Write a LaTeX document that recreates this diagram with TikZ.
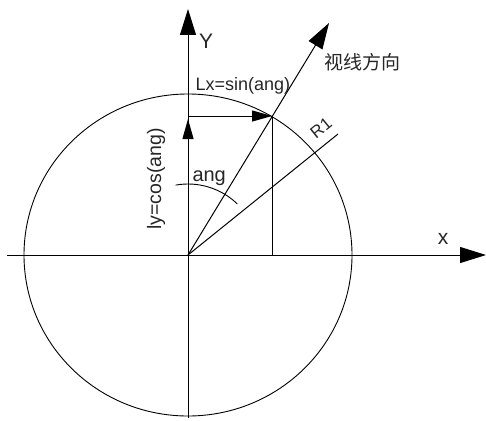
\documentclass[tikz,border=0pt]{standalone}
\usepackage{fontspec}
\setmainfont{Liberation Sans}
\newfontfamily\cjk{Noto Sans CJK SC}
\usetikzlibrary{arrows.meta}
\begin{document}
\begin{tikzpicture}[x=1pt,y=-1pt,line width=1pt,
  bigtip/.style={-{Triangle[length=26pt,width=16pt]}},
  smalltip/.style={-{Triangle[length=20pt,width=11pt]}},
  lbl/.style={inner sep=0pt,text=black!85}]
\useasboundingbox (0,0) rectangle (486,420);
\coordinate (O) at (188,255);
\coordinate (xl) at (7,255);
\coordinate (xr) at (486,255);
\coordinate (yb) at (188,418);
\coordinate (yt) at (188,9);
\coordinate (S) at (329,23);
\coordinate (P) at (272,116);
\coordinate (Py) at (188,116);
\coordinate (Px) at (272,255);
\coordinate (Ly) at (188,119);
\coordinate (R) at (338,134);
% circle
\draw[line width=0.9pt] (O) ellipse [x radius=164pt, y radius=161pt];
% axes
\draw[bigtip] (xl) -- (xr);
\draw[bigtip] (yb) -- (yt);
% sight direction
\draw[bigtip] (O) -- (S);
% R1 line
\draw (O) -- (R);
% projections
\draw (P) -- (Px);
\draw[smalltip] (Py) -- (P);
\draw[smalltip] (O) -- (Ly);
% angle arc
\draw[line width=0.9pt] (O) ++(100:71pt) arc[start angle=100, end angle=46, radius=71pt];
% labels
\node[lbl,font=\fontsize{21}{24}\selectfont] (Ylab) at (206,41) {Y};
\node[lbl,font=\fontsize{21}{24}\selectfont] (xlab) at (443,239) {x};
\node[lbl,font=\cjk\fontsize{19}{22}\selectfont] (sight) at (362,62) {视线方向};
\node[lbl,anchor=base west,font=\fontsize{18}{20}\selectfont] (Lx) at (195,90) {Lx=sin(ang)};
\node[lbl,anchor=base west,rotate=90,font=\fontsize{19.5}{22}\selectfont] (Lyl) at (161,230) {ly=cos(ang)};
\node[lbl,anchor=base west,font=\fontsize{20}{22}\selectfont] (ang) at (192,181) {ang};
\node[lbl,rotate=39,font=\fontsize{17}{20}\selectfont] (R1) at (321,128) {R1};
\end{tikzpicture}
\end{document}
